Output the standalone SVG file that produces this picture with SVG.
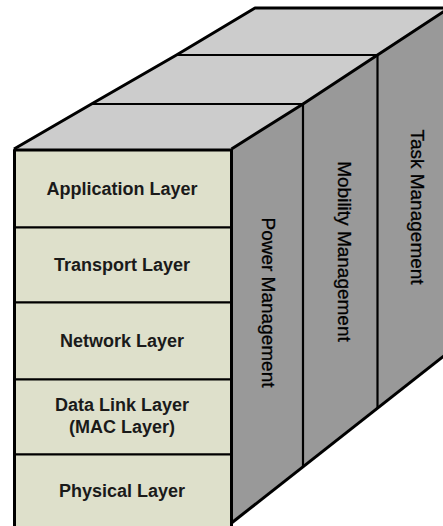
<svg xmlns="http://www.w3.org/2000/svg" width="443" height="526" viewBox="0 0 443 526">
  <style>
    .edge { stroke: #000; stroke-width: 3; stroke-linejoin: round; fill: none; }
    .thin { stroke: #000; stroke-width: 2.2; fill: none; }
    .top { fill: #cccccc; }
    .side { fill: #999999; }
    .front { fill: #dee0cb; }
    .layer { font-family: "Liberation Sans", Arial, sans-serif; font-weight: bold; font-size: 18px; fill: #1a1a1a; text-anchor: middle; }
    .mgmt { font-family: "Liberation Sans", Arial, sans-serif; font-size: 19px; fill: #000; stroke: #000; stroke-width: 0.3; text-anchor: middle; }
  </style>

  <!-- top face of the block -->
  <g id="top-face">
    <polygon class="top" points="14,149 91.5,104 176.5,55 255,8 449,8 377.5,55 303,104 231.5,149"/>
    <line class="thin" x1="91.5" y1="104" x2="303" y2="104"/>
    <line class="thin" x1="176.5" y1="55" x2="377.5" y2="55"/>
  </g>

  <!-- right side face: cross-layer management planes -->
  <g id="side-face">
    <polygon class="side" points="231.5,149 303,104 377.5,55 449,8 452,8 452,349.5 231.5,523"/>
    <line class="thin" x1="303" y1="104" x2="303" y2="466.5"/>
    <line class="thin" x1="377.5" y1="55" x2="377.5" y2="408"/>
  </g>

  <!-- outline of the block -->
  <g id="outline">
    <polyline class="edge" points="14,149 91.5,104 176.5,55 255,8 452,8"/>
    <polyline class="edge" points="231.5,149 303,104 377.5,55 449,8"/>
    <line class="edge" x1="231.5" y1="523" x2="452" y2="349.5"/>
  </g>

  <!-- protocol stack on the front face -->
  <g id="front-face">
    <rect class="front" x="14.5" y="150" width="217" height="380"/>
    <rect class="edge" x="14.5" y="150" width="217" height="380"/>
  </g>

  <g id="application-layer">
    <text class="layer" x="122" y="195">Application Layer</text>
  </g>
  <g id="transport-layer">
    <line class="thin" x1="14.5" y1="227.3" x2="231.5" y2="227.3"/>
    <text class="layer" x="122" y="270.5">Transport Layer</text>
  </g>
  <g id="network-layer">
    <line class="thin" x1="14.5" y1="302.3" x2="231.5" y2="302.3"/>
    <text class="layer" x="122" y="346.5">Network Layer</text>
  </g>
  <g id="data-link-layer">
    <line class="thin" x1="14.5" y1="379.3" x2="231.5" y2="379.3"/>
    <text class="layer" x="122" y="411">Data Link Layer</text>
    <text class="layer" x="122" y="432.5">(MAC Layer)</text>
  </g>
  <g id="physical-layer">
    <line class="thin" x1="14.5" y1="454.3" x2="231.5" y2="454.3"/>
    <text class="layer" x="122" y="497">Physical Layer</text>
  </g>

  <g id="power-management">
    <text class="mgmt" transform="translate(262,302.5) rotate(90)">Power Management</text>
  </g>
  <g id="mobility-management">
    <text class="mgmt" transform="translate(338,251.5) rotate(90)">Mobility Management</text>
  </g>
  <g id="task-management">
    <text class="mgmt" transform="translate(411,207) rotate(90)">Task Management</text>
  </g>
</svg>
